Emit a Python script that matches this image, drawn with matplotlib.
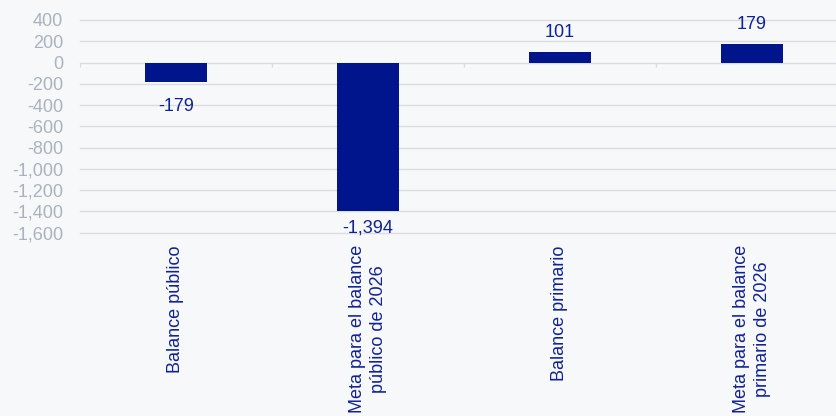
"""Fiscal balance vs 2026 targets, bar chart."""
import matplotlib

matplotlib.use("Agg")
import matplotlib.pyplot as plt  # noqa: E402
from matplotlib.ticker import FuncFormatter, MultipleLocator  # noqa: E402

categories = [
    "Balance público",
    "Meta para el balance\npúblico de 2026",
    "Balance primario",
    "Meta para el balance\nprimario de 2026",
]
values = [-179, -1394, 101, 179]

BG = "#f7f8f9"
BAR = "#00148c"
TEXT = "#0f2196"
GRID = "#d9dde3"
TICK = "#aab3bd"

plt.rcParams["font.family"] = ["Liberation Sans", "DejaVu Sans"]

fig = plt.figure(figsize=(8.37, 4.16), dpi=100, facecolor=BG)
# axes spans past the right edge of the canvas
ax = fig.add_axes([80 / 837, (416 - 232.7) / 416, 768 / 837, 212.7 / 416])
ax.set_facecolor(BG)

x = list(range(len(values)))
ax.bar(x, values, width=0.325, color=BAR, zorder=3)

ax.set_xlim(-0.5, len(values) - 0.5)
ax.set_ylim(-1600, 400)
ax.yaxis.set_major_locator(MultipleLocator(200))
ax.yaxis.set_major_formatter(FuncFormatter(lambda v, _: f"{v:,.0f}"))
ax.grid(axis="y", color=GRID, lw=1, zorder=0)
for gl in ax.get_ygridlines():
    gl.set_clip_on(False)
ax.tick_params(axis="y", length=0, pad=12, labelsize=13, labelcolor=TICK)

ax.set_xticks(x)
ax.set_xticklabels(categories, rotation=90, color=TEXT, fontsize=13,
                   linespacing=1.25, ha="center", va="top")
ax.tick_params(axis="x", length=0, pad=9)

for s in ax.spines.values():
    s.set_visible(False)

# category separators hanging under the zero line
ax.vlines([i - 0.5 for i in range(len(values) + 1)], -45, 0,
          color=GRID, lw=1, zorder=2)

# value labels; a label that would run past the axis floor is pulled in
fig.canvas.draw()
px_per_unit = ax.bbox.height / 2000
for xi, v in zip(x, values):
    label = f"{v:,.0f}"
    if v >= 0:
        ax.annotate(label, (xi, v), xytext=(0, 10.5), textcoords="offset points",
                    ha="center", va="baseline", color=TEXT, fontsize=13)
    else:
        room = (v - ax.get_ylim()[0]) * px_per_unit - 13
        off = min(11.5, max(room, 0) * 72 / fig.dpi)
        ax.annotate(label, (xi, v), xytext=(0, -off), textcoords="offset points",
                    ha="center", va="top", color=TEXT, fontsize=13)

fig.savefig("out.png", dpi=100, facecolor=BG)
